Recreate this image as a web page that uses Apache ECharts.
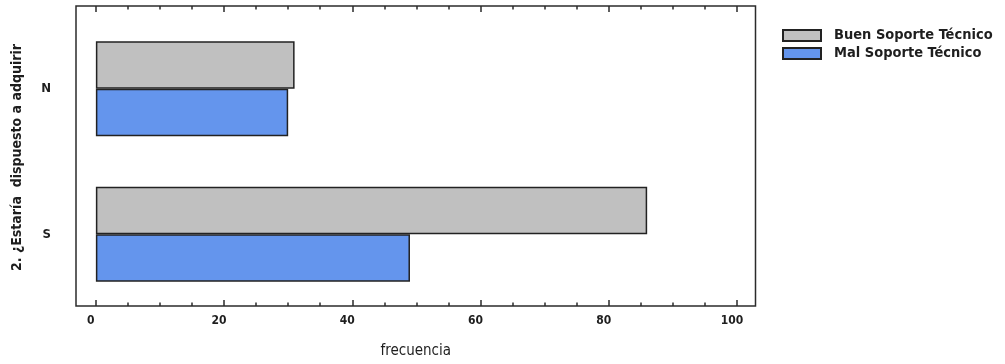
<!DOCTYPE html>
<html>
<head>
<meta charset="utf-8">
<script src="https://cdn.jsdelivr.net/npm/echarts@6/dist/echarts.min.js"></script>
<style>
  html, body { margin: 0; padding: 0; background: #fff; }
  #chart { width: 1005px; height: 364px; }
</style>
</head>
<body>
<div id="chart"></div>
<script>
// Answers to question 2 and counts per technical-support group
const categories = ['N', 'S'];
const seriesNames = ['Buen Soporte Técnico', 'Mal Soporte Técnico'];
const buenSoporte = [31, 86];
const malSoporte = [30, 49];

// Frequency axis: labelled ticks and minor ticks
const majorTicks = [0, 20, 40, 60, 80, 100];
const minorTicks = [5, 10, 15, 25, 30, 35, 45, 50, 55, 65, 70, 75, 85, 90, 95];
const xMin = -3.1;
const xMax = 102.9;

const yTitle = '2. ¿Estaría  dispuesto a adquirir';
const xTitle = 'frecuencia';

const FONT = '"DejaVu Sans Condensed", "DejaVu Sans", sans-serif';
const lineColor = '#2b2b2b';
const textColor = '#1e1e1e';

function tickAxis(position, values, len, withLabels) {
  return {
    type: 'value', gridIndex: 0, position: position,
    min: xMin, max: xMax,
    axisLine: { show: false },
    splitLine: { show: false },
    axisTick: { show: true, inside: true, length: len, customValues: values,
                lineStyle: { color: lineColor, width: 1.5 } },
    axisLabel: withLabels ? {
      show: true, customValues: values, margin: 9,
      fontFamily: FONT, fontWeight: 'bold', fontSize: 12, color: textColor,
      padding: [0, 10, 0, 0]
    } : { show: false }
  };
}

const xAxes = [
  Object.assign(tickAxis('bottom', majorTicks, 6, true), {
    name: xTitle, nameLocation: 'middle', nameGap: 38,
    nameTextStyle: { fontFamily: FONT, fontSize: 15, color: textColor }
  }),
  tickAxis('bottom', minorTicks, 3.5, false),
  tickAxis('top', majorTicks, 6, false),
  tickAxis('top', minorTicks, 3.5, false),
  { type: 'value', gridIndex: 1, min: xMin, max: xMax, show: false }
];

const chart = echarts.init(document.getElementById('chart'), null, { renderer: 'canvas' });
chart.setOption({
  animation: false,
  backgroundColor: '#fff',
  grid: [
    { left: 76, right: 249.5, top: 6, bottom: 48, show: true,
      borderColor: lineColor, borderWidth: 1.5, backgroundColor: 'transparent' },
    { left: 76, right: 249.5, top: 16, bottom: 57 }
  ],
  legend: {
    orient: 'vertical', left: 782, top: 28, padding: 0,
    itemWidth: 38, itemHeight: 11, itemGap: 3,
    icon: 'rect',
    data: seriesNames,
    textStyle: { fontFamily: FONT, fontWeight: 'bold', fontSize: 14.5, lineHeight: 12,
                 color: textColor, padding: [0, 0, 0, 8] }
  },
  xAxis: xAxes,
  yAxis: [
    { type: 'value', gridIndex: 0, show: false, min: 0, max: 1 },
    {
      type: 'category', gridIndex: 1, data: categories, inverse: true,
      axisLine: { show: false }, axisTick: { show: false },
      axisLabel: { margin: 25, fontFamily: FONT, fontWeight: 'bold', fontSize: 13, color: textColor },
      name: yTitle, nameLocation: 'middle', nameGap: 52, nameRotate: 90,
      nameTextStyle: { fontFamily: FONT, fontWeight: 'bold', fontSize: 14, color: textColor,
                       padding: [0, 0, 0, 8] }
    }
  ],
  series: [
    {
      name: seriesNames[0], type: 'bar', xAxisIndex: 4, yAxisIndex: 1,
      data: buenSoporte, barWidth: 47.5, barGap: '0%',
      itemStyle: { color: '#c0c0c0', borderColor: '#222', borderWidth: 1.5 }
    },
    {
      name: seriesNames[1], type: 'bar', xAxisIndex: 4, yAxisIndex: 1,
      data: malSoporte, barWidth: 47.5, barGap: '0%',
      itemStyle: { color: '#6495ed', borderColor: '#222', borderWidth: 1.5 }
    }
  ]
});
</script>
</body>
</html>
